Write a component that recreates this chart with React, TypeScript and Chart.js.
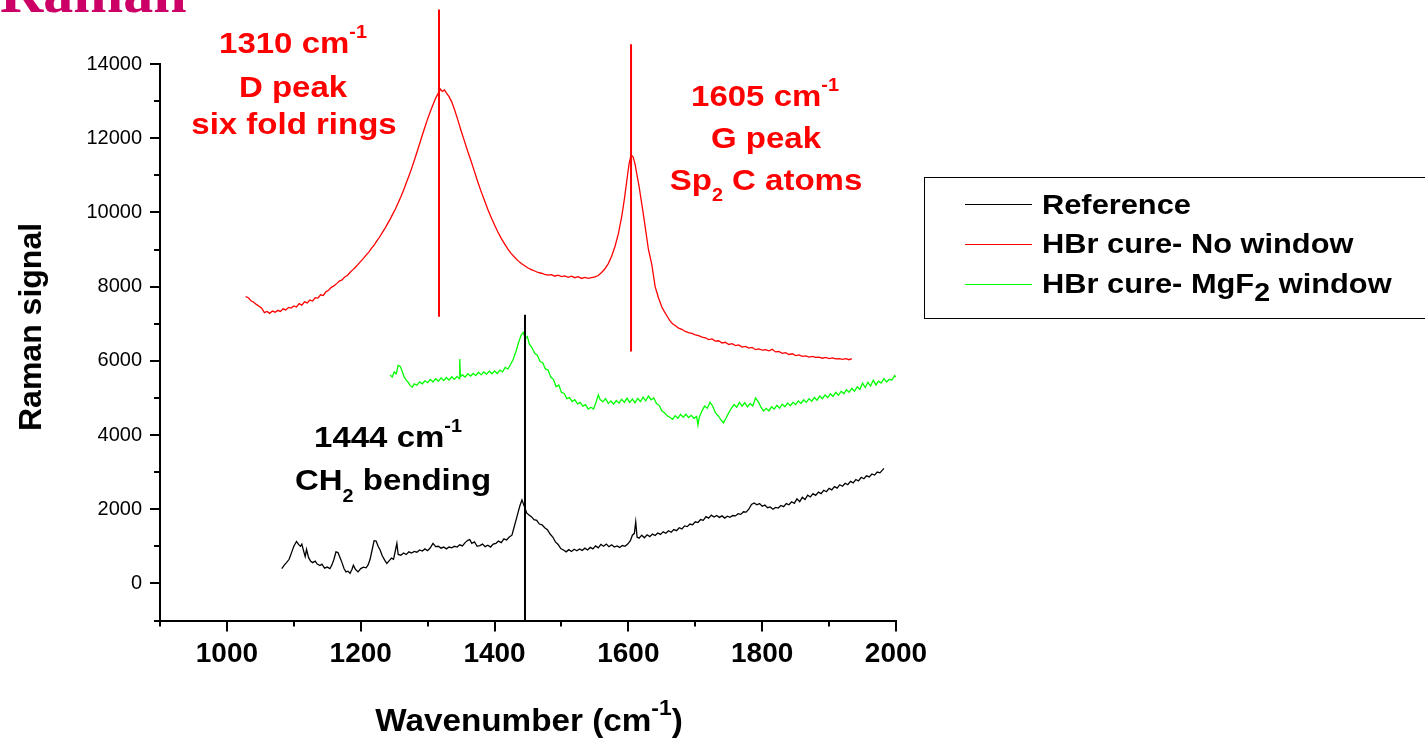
import React, { useEffect, useRef } from "react";
import { Chart, registerables } from "chart.js";

Chart.register(...registerables);

// ---- Data ----
const refX = [1082, 1086, 1089, 1093, 1097, 1100, 1104, 1107, 1110, 1112, 1115, 1117, 1119, 1122, 1125, 1128, 1132, 1135, 1139, 1142, 1146, 1150, 1154, 1157, 1160, 1163, 1166, 1169, 1172, 1175, 1178, 1181, 1184, 1187, 1189, 1192, 1196, 1200, 1204, 1208, 1211, 1214, 1217, 1220, 1223, 1226, 1229, 1232, 1236, 1239, 1243, 1246, 1249, 1252, 1254, 1256, 1260, 1264, 1268, 1272, 1276, 1280, 1284, 1288, 1292, 1296, 1300, 1304, 1308, 1312, 1316, 1320, 1324, 1328, 1332, 1336, 1340, 1344, 1348, 1352, 1356, 1360, 1363, 1366, 1370, 1374, 1378, 1382, 1386, 1390, 1394, 1398, 1402, 1406, 1410, 1414, 1418, 1422, 1426, 1429, 1432, 1435, 1438, 1441, 1443, 1445, 1448, 1451, 1455, 1459, 1463, 1467, 1471, 1475, 1479, 1483, 1487, 1491, 1495, 1499, 1503, 1507, 1511, 1515, 1519, 1523, 1527, 1531, 1535, 1539, 1543, 1547, 1551, 1555, 1559, 1563, 1567, 1571, 1575, 1579, 1583, 1587, 1591, 1595, 1599, 1603, 1606, 1609, 1611, 1613, 1616, 1620, 1624, 1628, 1632, 1636, 1640, 1644, 1648, 1652, 1656, 1660, 1664, 1668, 1672, 1676, 1680, 1684, 1688, 1692, 1696, 1700, 1704, 1708, 1712, 1716, 1720, 1724, 1728, 1732, 1736, 1740, 1744, 1748, 1752, 1756, 1760, 1764, 1768, 1772, 1776, 1780, 1784, 1788, 1792, 1796, 1800, 1804, 1808, 1812, 1816, 1820, 1824, 1828, 1832, 1836, 1840, 1844, 1848, 1852, 1856, 1860, 1864, 1868, 1872, 1876, 1880, 1884, 1888, 1892, 1896, 1900, 1904, 1908, 1912, 1916, 1920, 1924, 1928, 1932, 1936, 1940, 1944, 1948, 1952, 1956, 1960, 1964, 1968, 1972, 1976, 1980, 1982];
const refY = [400, 500, 560, 650, 850, 1000, 1130, 1050, 1000, 1060, 850, 720, 920, 700, 600, 560, 600, 520, 480, 520, 410, 440, 400, 500, 650, 850, 830, 700, 560, 400, 310, 330, 270, 380, 490, 380, 310, 400, 440, 420, 500, 650, 900, 1150, 1140, 1000, 900, 750, 620, 540, 620, 680, 650, 900, 1080, 780, 760, 820, 780, 850, 820, 860, 840, 900, 870, 930, 880, 960, 1080, 990, 1000, 950, 980, 930, 980, 960, 1000, 980, 1040, 1010, 1100, 1160, 1180, 1080, 1120, 1000, 1020, 1060, 990, 1030, 980, 1060, 1080, 1140, 1100, 1200, 1170, 1250, 1300, 1500, 1700, 1900, 2100, 2250, 2150, 2050, 1900, 1850, 1800, 1720, 1700, 1600, 1580, 1500, 1450, 1330, 1250, 1120, 1050, 940, 900, 850, 910, 860, 920, 880, 930, 890, 950, 900, 970, 930, 1010, 960, 1050, 1000, 1060, 990, 1040, 980, 1010, 970, 1020, 1000, 1060, 1150, 1300, 1350, 1660, 1250, 1220, 1300, 1230, 1310, 1260, 1330, 1290, 1360, 1320, 1390, 1350, 1420, 1380, 1450, 1420, 1500, 1470, 1550, 1530, 1600, 1580, 1660, 1640, 1720, 1700, 1800, 1760, 1840, 1790, 1830, 1780, 1820, 1760, 1810, 1780, 1830, 1820, 1880, 1860, 1930, 1920, 2000, 2130, 2170, 2120, 2150, 2080, 2110, 2040, 2060, 2000, 2050, 2030, 2100, 2070, 2150, 2120, 2200, 2160, 2280, 2200, 2320, 2260, 2380, 2330, 2420, 2370, 2460, 2420, 2510, 2470, 2560, 2520, 2610, 2570, 2660, 2620, 2700, 2660, 2750, 2710, 2800, 2760, 2860, 2820, 2900, 2870, 2950, 2920, 3000, 2980, 3060, 3100];

const noWinX = [
  1028, 1032, 1036, 1040, 1044, 1048, 1052, 1056, 1060, 1064,
  1068, 1072, 1076, 1080, 1084, 1088, 1092, 1096, 1100, 1104,
  1108, 1112, 1116, 1120, 1124, 1128, 1132, 1136, 1140, 1144,
  1148, 1152, 1156, 1160, 1164, 1168, 1172, 1176, 1180, 1184,
  1188, 1192, 1196, 1200, 1204, 1208, 1212, 1216, 1220, 1224,
  1228, 1232, 1236, 1240, 1244, 1248, 1252, 1256, 1260, 1264,
  1268, 1272, 1276, 1280, 1284, 1288, 1292, 1296, 1300, 1304,
  1308, 1312, 1316,
  1319, 1322, 1325, 1328, 1332, 1336, 1340,
  1345, 1350, 1355, 1360, 1365, 1370, 1375, 1380, 1385, 1390,
  1395, 1400, 1405, 1410, 1415, 1420, 1425, 1430, 1435, 1440,
  1445, 1450, 1455, 1460, 1465, 1470, 1475, 1480, 1485, 1490,
  1495, 1500, 1505, 1510, 1515, 1520, 1525, 1530, 1535, 1540,
  1545, 1550, 1555, 1560, 1565, 1570, 1575, 1580, 1585, 1590,
  1594, 1598, 1601, 1604, 1607, 1610, 1613, 1616, 1619, 1622, 1626,
  1630, 1635, 1640, 1645, 1650, 1654, 1658, 1662, 1666, 1670,
  1675, 1680, 1685, 1690, 1695, 1700, 1705, 1710, 1715, 1720,
  1725, 1730, 1735, 1740, 1745, 1750, 1755, 1760, 1765, 1770,
  1775, 1780, 1785, 1790, 1795, 1800, 1805, 1810, 1815, 1820,
  1825, 1830, 1835, 1840, 1845, 1850, 1855, 1860, 1865, 1870,
  1875, 1880, 1885, 1890, 1895, 1900, 1905, 1910, 1915, 1920,
  1925, 1930, 1934,
];
const noWinY = [
  7730, 7700, 7620, 7580, 7520, 7470, 7420, 7300, 7330, 7280,
  7340, 7310, 7360, 7330, 7400, 7370, 7440, 7420, 7480, 7450,
  7540, 7500, 7590, 7560, 7640, 7610, 7700, 7690, 7780, 7760,
  7860, 7900, 7980, 8020, 8080, 8150, 8180, 8260, 8300, 8380,
  8450, 8520, 8600, 8680, 8760, 8850, 8930, 9030, 9120, 9230,
  9330, 9450, 9560, 9690, 9820, 9960, 10100, 10260, 10420, 10600,
  10790, 10980, 11180, 11400, 11620, 11850, 12080, 12300, 12520, 12720,
  12900, 13080, 13220,
  13320, 13260, 13300, 13220, 13120, 12980, 12780,
  12500, 12200, 11920, 11640, 11380, 11100, 10820, 10560, 10320, 10080,
  9860, 9660, 9470, 9300, 9150, 9010, 8890, 8790, 8700, 8620,
  8560, 8500, 8460, 8420, 8380, 8360, 8330, 8310, 8320, 8280,
  8310, 8270, 8290, 8250, 8280, 8240, 8270, 8220, 8250, 8220,
  8240, 8260, 8300, 8380, 8480, 8620, 8820, 9080, 9420, 9880,
  10350, 10900, 11300, 11550, 11500, 11300, 11000, 10700, 10350, 10000, 9500,
  9000, 8600, 8000, 7700, 7450, 7320, 7200, 7080, 7000, 6950,
  6880, 6850, 6790, 6760, 6740, 6700, 6680, 6640, 6620, 6570,
  6590, 6530, 6540, 6480, 6500, 6440, 6460, 6410, 6430, 6370,
  6390, 6340, 6360, 6300, 6320, 6290, 6300, 6270, 6310, 6240,
  6250, 6200, 6220, 6170, 6190, 6140, 6160, 6120, 6130, 6100,
  6120, 6090, 6100, 6070, 6090, 6060, 6080, 6050, 6060, 6040,
  6060, 6030, 6060,
];

const mgX = [1244, 1247, 1250, 1253, 1256, 1259, 1262, 1265, 1268, 1271, 1274, 1277, 1280, 1284, 1288, 1292, 1296, 1300, 1304, 1308, 1312, 1316, 1320, 1324, 1328, 1332, 1336, 1340, 1344, 1347, 1348, 1349, 1352, 1356, 1360, 1364, 1368, 1372, 1376, 1380, 1384, 1388, 1392, 1396, 1400, 1404, 1408, 1412, 1416, 1420, 1424, 1428, 1432, 1436, 1440, 1443, 1446, 1449, 1452, 1456, 1460, 1464, 1468, 1472, 1476, 1480, 1484, 1488, 1492, 1496, 1500, 1504, 1508, 1512, 1516, 1520, 1524, 1528, 1532, 1536, 1540, 1544, 1548, 1552, 1555, 1558, 1562, 1566, 1570, 1574, 1578, 1582, 1586, 1590, 1594, 1598, 1602, 1606, 1610, 1614, 1618, 1622, 1626, 1630, 1634, 1638, 1642, 1646, 1650, 1654, 1658, 1662, 1666, 1670, 1674, 1678, 1682, 1686, 1690, 1694, 1698, 1702, 1704, 1706, 1710, 1714, 1718, 1722, 1726, 1730, 1734, 1738, 1742, 1746, 1750, 1754, 1758, 1762, 1766, 1770, 1774, 1778, 1782, 1786, 1790, 1794, 1798, 1802, 1806, 1810, 1814, 1818, 1822, 1826, 1830, 1834, 1838, 1842, 1846, 1850, 1854, 1858, 1862, 1866, 1870, 1874, 1878, 1882, 1886, 1890, 1894, 1898, 1902, 1906, 1910, 1914, 1918, 1922, 1926, 1930, 1934, 1938, 1942, 1946, 1950, 1954, 1958, 1962, 1966, 1970, 1974, 1978, 1982, 1986, 1990, 1994, 1998, 2000];
const mgY = [5620, 5560, 5700, 5650, 5880, 5850, 5720, 5560, 5480, 5420, 5330, 5290, 5380, 5340, 5430, 5380, 5460, 5410, 5500, 5430, 5520, 5450, 5540, 5470, 5550, 5480, 5570, 5500, 5580, 5520, 6050, 5580, 5620, 5560, 5650, 5590, 5660, 5600, 5690, 5620, 5700, 5640, 5720, 5650, 5730, 5660, 5750, 5700, 5820, 5780, 5900, 6050, 6250, 6500, 6700, 6760, 6600, 6650, 6450, 6350, 6200, 6150, 5980, 5950, 5780, 5750, 5560, 5500, 5300, 5350, 5150, 5120, 4980, 5010, 4900, 4950, 4840, 4880, 4780, 4820, 4700, 4750, 4700, 4900, 5080, 4950, 4900, 4980, 4850, 4920, 4830, 4930, 4860, 4960, 4880, 4990, 4880, 4970, 4870, 4990, 4900, 5020, 4920, 5050, 4950, 5000, 4850, 4800, 4650, 4600, 4520, 4480, 4420, 4520, 4450, 4560, 4480, 4560, 4470, 4530, 4450, 4500, 4270, 4480, 4650, 4780, 4720, 4880, 4780, 4600, 4520, 4420, 4330, 4450, 4600, 4720, 4820, 4750, 4880, 4780, 4870, 4760, 4850, 4780, 5000, 4900, 4760, 4650, 4720, 4650, 4760, 4700, 4800, 4720, 4830, 4760, 4860, 4790, 4880, 4820, 4920, 4850, 4950, 4880, 4980, 4910, 5010, 4940, 5050, 4980, 5080, 5010, 5110, 5040, 5150, 5070, 5180, 5110, 5220, 5150, 5260, 5180, 5300, 5230, 5400, 5280, 5420, 5320, 5480, 5350, 5450, 5400, 5520, 5430, 5500, 5480, 5600, 5560];

// peak marker lines
const dLineX = [1317, 1317];
const dLineY = [7190, 15470];
const gLineX = [1604, 1604];
const gLineY = [6250, 14530];
const chLineX = [1445.5, 1445.5];
const chLineY = [-1000, 7240];

// axis ticks
const xMajor = [1000, 1200, 1400, 1600, 1800, 2000];
const xMinor = [900, 1100, 1300, 1500, 1700, 1900];
const yMajor = [0, 2000, 4000, 6000, 8000, 10000, 12000, 14000];
const yMinor = [-1000, 1000, 3000, 5000, 7000, 9000, 11000, 13000];

const seriesNames = ["Reference", "HBr cure- No window", "HBr cure- MgF2 window"];
const seriesColors = ["#000000", "#ff0000", "#00ff00"];

const zip = (xs: number[], ys: number[]) => xs.map((x, i) => ({ x, y: ys[i] }));

const FF = "'Liberation Sans', Arial, sans-serif";

const minorTicks = {
  id: "minorTicks",
  afterDraw(chart: any) {
    const { ctx, chartArea, scales } = chart;
    ctx.save();
    ctx.strokeStyle = "#000";
    ctx.lineWidth = 2;
    xMinor.forEach((v) => {
      const px = Math.round(scales.x.getPixelForValue(v));
      ctx.beginPath();
      ctx.moveTo(px, chartArea.bottom);
      ctx.lineTo(px, chartArea.bottom + 6);
      ctx.stroke();
    });
    yMinor.forEach((v) => {
      const py = Math.round(scales.y.getPixelForValue(v));
      ctx.beginPath();
      ctx.moveTo(chartArea.left, py);
      ctx.lineTo(chartArea.left - 6, py);
      ctx.stroke();
    });
    ctx.restore();
  },
};

type TxtProps = {
  cx: number;
  base: number;
  fs: number;
  color: string;
  sx?: number;
  left?: boolean;
  children: React.ReactNode;
};

function Txt({ cx, base, fs, color, sx = 1, left = false, children }: TxtProps) {
  return (
    <div
      style={{
        position: "absolute",
        left: cx,
        top: base - 0.8465 * fs,
        fontFamily: FF,
        fontWeight: "bold",
        fontSize: fs,
        lineHeight: fs + "px",
        color,
        whiteSpace: "nowrap",
        transform: left ? `scaleX(${sx})` : `translateX(-50%) scaleX(${sx})`,
        transformOrigin: left ? "left center" : "center center",
      }}
    >
      {children}
    </div>
  );
}

const sup = (t: string, fs: number, top: number) => (
  <span style={{ fontSize: fs, position: "relative", top }}>{t}</span>
);

export default function App() {
  const canvasRef = useRef<HTMLCanvasElement | null>(null);

  useEffect(() => {
    if (!canvasRef.current) return;
    const marker = { borderWidth: 2, pointRadius: 0, clip: false as any, tension: 0, fill: false };
    const curve = { borderWidth: 1.3, pointRadius: 0, tension: 0, fill: false };
    const chart = new Chart(canvasRef.current, {
      type: "line",
      data: {
        datasets: [
          { label: "D", data: zip(dLineX, dLineY), borderColor: "#ff0000", ...marker },
          { label: "G", data: zip(gLineX, gLineY), borderColor: "#ff0000", ...marker },
          { label: "CH2", data: zip(chLineX, chLineY), borderColor: "#000000", ...marker },
          { label: seriesNames[0], data: zip(refX, refY), borderColor: seriesColors[0], ...curve },
          { label: seriesNames[1], data: zip(noWinX, noWinY), borderColor: seriesColors[1], ...curve },
          { label: seriesNames[2], data: zip(mgX, mgY), borderColor: seriesColors[2], ...curve },
        ] as any,
      },
      options: {
        responsive: false,
        maintainAspectRatio: false,
        animation: false,
        devicePixelRatio: 1,
        layout: { padding: { top: 64, right: 529, left: 0, bottom: 0 } },
        plugins: { legend: { display: false }, tooltip: { enabled: false }, title: { display: false } },
        scales: {
          x: {
            type: "linear",
            min: 900,
            max: 2000,
            afterBuildTicks: (s: any) => {
              s.ticks = xMajor.map((v) => ({ value: v }));
            },
            afterFit: (s: any) => {
              s.height = 118.5;
            },
            border: { display: true, color: "#000", width: 2 },
            grid: { display: true, drawOnChartArea: false, drawTicks: true, tickLength: 11, color: "#000", lineWidth: 2 },
            ticks: {
              color: "#000",
              padding: 6,
              autoSkip: false,
              maxRotation: 0,
              callback: (v: any) => String(v),
              font: { family: FF, size: 28, weight: "bold" },
            },
          },
          y: {
            type: "linear",
            min: -1000,
            max: 14000,
            afterBuildTicks: (s: any) => {
              s.ticks = yMajor.map((v) => ({ value: v }));
            },
            afterFit: (s: any) => {
              s.width = 160;
            },
            border: { display: true, color: "#000", width: 2 },
            grid: { display: true, drawOnChartArea: false, drawTicks: true, tickLength: 10, color: "#000", lineWidth: 2 },
            ticks: { color: "#000", padding: 8, callback: (v: any) => String(v), font: { family: FF, size: 20 } },
          },
        },
      } as any,
      plugins: [minorTicks],
    });
    return () => chart.destroy();
  }, []);

  return (
    <div style={{ position: "absolute", left: 0, top: 0, width: 1425, height: 739, overflow: "hidden", background: "#fff" }}>
      <canvas ref={canvasRef} width={1425} height={739} style={{ position: "absolute", left: 0, top: 0 }} />

      {/* slide title, cut at the top */}
      <div
        style={{
          position: "absolute",
          left: 0,
          top: -38,
          fontFamily: "'Liberation Serif', 'Times New Roman', serif",
          fontWeight: "bold",
          fontSize: 60,
          lineHeight: "60px",
          color: "rgb(204,0,102)",
          whiteSpace: "nowrap",
        }}
      >
        Raman
      </div>

      {/* D peak annotation */}
      <Txt cx={293} base={53} fs={30} color="#ff0000" sx={1.1}>
        1310 cm{sup("-1", 18, -15)}
      </Txt>
      <Txt cx={293} base={97} fs={30} color="#ff0000" sx={1.1}>
        D peak
      </Txt>
      <Txt cx={294} base={134} fs={30} color="#ff0000" sx={1.1}>
        six fold rings
      </Txt>

      {/* G peak annotation */}
      <Txt cx={765} base={106} fs={30} color="#ff0000" sx={1.1}>
        1605 cm{sup("-1", 18, -15)}
      </Txt>
      <Txt cx={766} base={148} fs={30} color="#ff0000" sx={1.1}>
        G peak
      </Txt>
      <Txt cx={766} base={190} fs={30} color="#ff0000" sx={1.1}>
        Sp{sup("2", 18, 11)} C atoms
      </Txt>

      {/* CH2 annotation */}
      <Txt cx={388} base={447} fs={30} color="#000" sx={1.1}>
        1444 cm{sup("-1", 18, -15)}
      </Txt>
      <Txt cx={393} base={490} fs={30} color="#000" sx={1.1}>
        CH{sup("2", 18, 12)} bending
      </Txt>

      {/* axis titles */}
      <div
        style={{
          position: "absolute",
          left: 30,
          top: 327,
          fontFamily: FF,
          fontWeight: "bold",
          fontSize: 32,
          lineHeight: "32px",
          color: "#000",
          whiteSpace: "nowrap",
          transform: "translate(-50%, -50%) rotate(-90deg)",
        }}
      >
        Raman signal
      </div>
      <Txt cx={529} base={731} fs={32} color="#000" sx={1.04}>
        Wavenumber (cm{sup("-1", 22, -16)})
      </Txt>

      {/* legend */}
      <div
        style={{
          position: "absolute",
          left: 924,
          top: 177,
          width: 520,
          height: 142,
          border: "1px solid #000",
          boxSizing: "border-box",
        }}
      />
      {seriesNames.map((n, i) => {
        const ly = [204, 244, 284][i];
        const base = [215, 254, 294][i];
        return (
          <React.Fragment key={n}>
            <div
              style={{
                position: "absolute",
                left: 965,
                top: ly - 0.5,
                width: 67,
                height: 1,
                background: seriesColors[i],
              }}
            />
            <Txt cx={1042} base={base} fs={28} color="#000" sx={1.1} left>
              {i === 2 ? (
                <>
                  HBr cure- MgF{sup("2", 26, 8)} window
                </>
              ) : (
                n
              )}
            </Txt>
          </React.Fragment>
        );
      })}
    </div>
  );
}
